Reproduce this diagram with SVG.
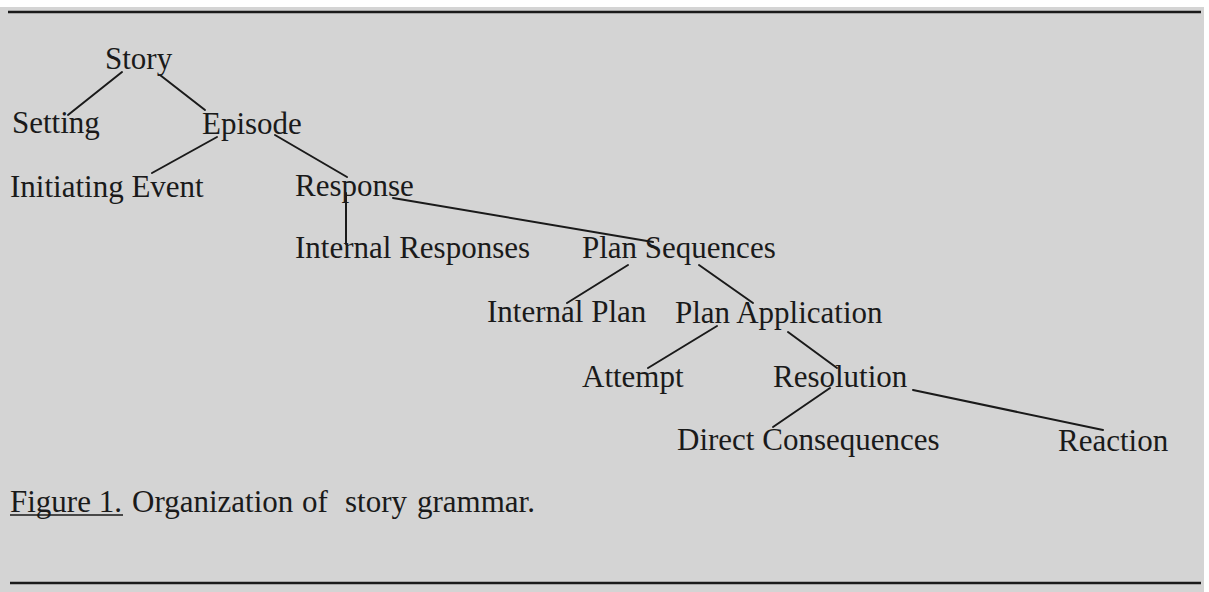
<svg xmlns="http://www.w3.org/2000/svg" width="1209" height="592" viewBox="0 0 1209 592">
<style>
  .bg { fill: #d4d4d4; }
  .rule { stroke: #1a1a1a; stroke-width: 2.5; }
  .lbl { font-size: 31px; fill: #1a1a1a; }
  .edge { stroke: #1a1a1a; stroke-width: 2; fill: none; stroke-linecap: round; }
</style>
<rect x="0" y="0" width="1209" height="592" fill="#ffffff"/>
<rect class="bg" x="0" y="7" width="1204" height="585"/>
<line class="rule" x1="8" y1="12" x2="1201" y2="12"/>
<line class="rule" x1="10" y1="583" x2="1201" y2="583"/>

<g id="connectors">
  <line class="edge" x1="122" y1="72" x2="68" y2="115"/>
  <line class="edge" x1="160" y1="75" x2="205" y2="110"/>
  <line class="edge" x1="217" y1="137" x2="152" y2="173"/>
  <line class="edge" x1="275" y1="135" x2="347" y2="177"/>
  <line class="edge" x1="346" y1="193" x2="346" y2="244"/>
  <line class="edge" x1="393" y1="198" x2="653" y2="242"/>
  <line class="edge" x1="628" y1="265" x2="567" y2="303"/>
  <line class="edge" x1="699" y1="265" x2="753" y2="303"/>
  <line class="edge" x1="717" y1="326" x2="648" y2="368"/>
  <line class="edge" x1="788" y1="332" x2="837" y2="368"/>
  <line class="edge" x1="830" y1="388" x2="773" y2="427"/>
  <line class="edge" x1="913" y1="390" x2="1103" y2="430"/>
</g>

<g font-family="Liberation Serif, Times New Roman, DejaVu Serif, serif">
<g id="story"><text class="lbl" x="105" y="69">Story</text></g>
<g id="setting"><text class="lbl" x="12" y="133">Setting</text></g>
<g id="episode"><text class="lbl" x="202" y="134">Episode</text></g>
<g id="initiating-event"><text class="lbl" x="10" y="197">Initiating Event</text></g>
<g id="response"><text class="lbl" x="295" y="196">Response</text></g>
<g id="internal-responses"><text class="lbl" x="295" y="258">Internal Responses</text></g>
<g id="plan-sequences"><text class="lbl" x="582" y="258">Plan Sequences</text></g>
<g id="internal-plan"><text class="lbl" x="487" y="322">Internal Plan</text></g>
<g id="plan-application"><text class="lbl" x="675" y="323">Plan Application</text></g>
<g id="attempt"><text class="lbl" x="582" y="387">Attempt</text></g>
<g id="resolution"><text class="lbl" x="773" y="387">Resolution</text></g>
<g id="direct-consequences"><text class="lbl" x="677" y="450">Direct Consequences</text></g>
<g id="reaction"><text class="lbl" x="1058" y="451">Reaction</text></g>

<g id="caption">
  <text class="lbl" y="512"><tspan x="10">Figure 1.</tspan><tspan x="132">Organization</tspan><tspan x="302">of</tspan><tspan x="345">story</tspan><tspan x="417">grammar.</tspan></text>
  <line stroke="#1a1a1a" stroke-width="1.5" x1="10" y1="515" x2="123" y2="515"/>
</g>
</g>
</svg>
